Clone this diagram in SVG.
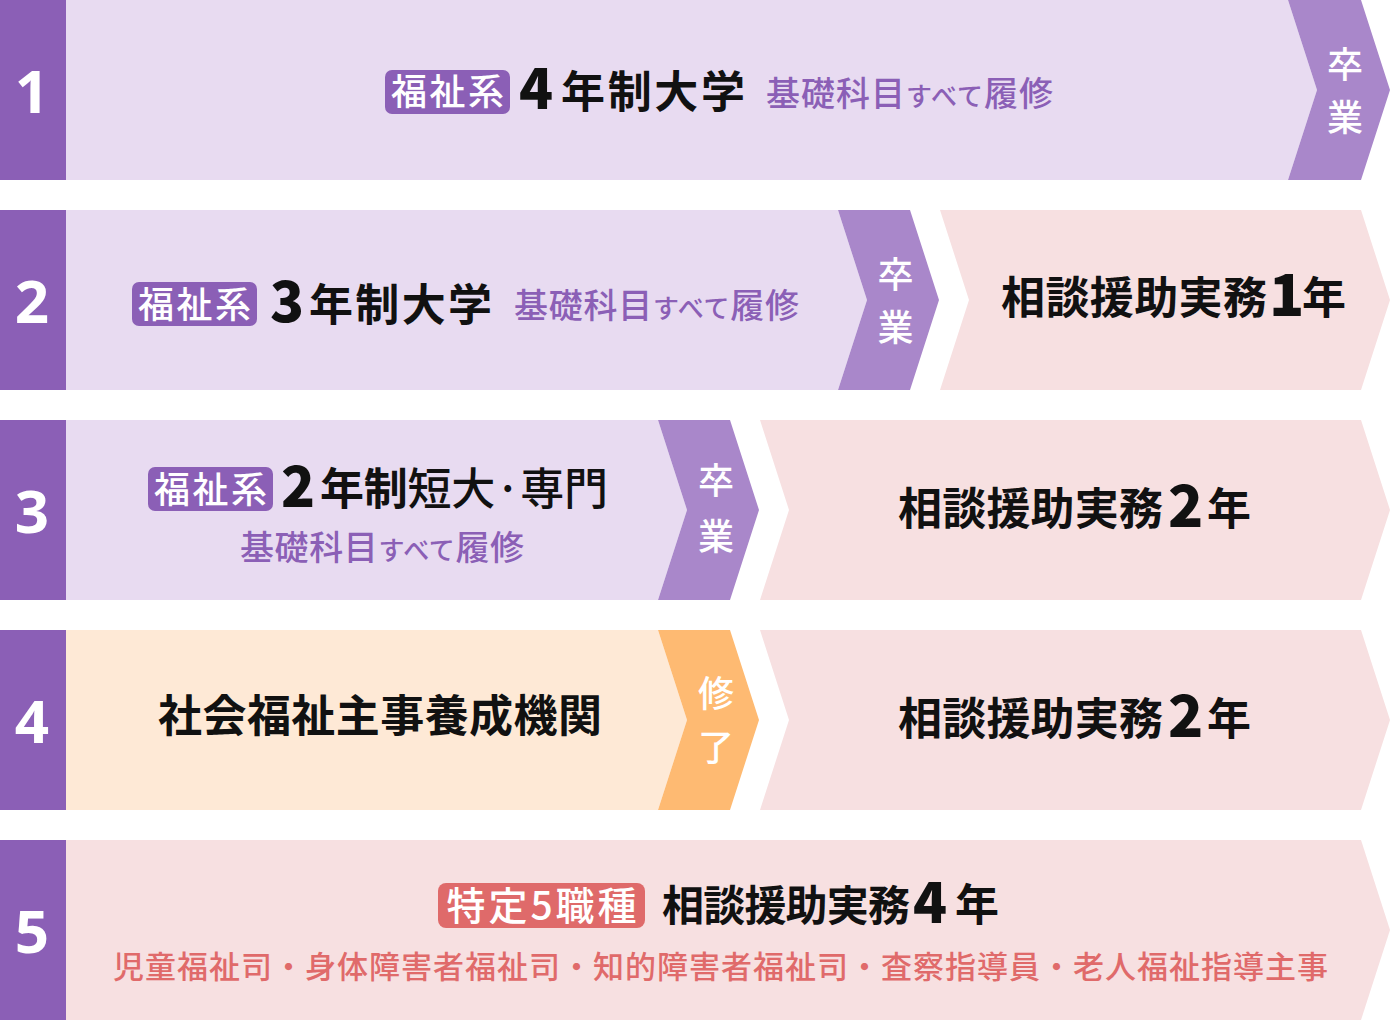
<svg xmlns="http://www.w3.org/2000/svg" width="1390" height="1020" viewBox="0 0 1390 1020">
<style>
text{font-family:"Noto Sans CJK JP","Noto Sans",sans-serif}
.num{fill:#ffffff;font-size:60px;font-weight:700;text-anchor:middle;font-family:"Noto Sans","Noto Sans CJK JP",sans-serif}
.numcol{fill:#8b5fb6}
.lav{fill:#e8dbf1}
.chev{fill:#a987ca}
.pink{fill:#f7e0e1}
.peach{fill:#fee9d6}
.orng{fill:#feba72}
.badge{fill:#8b5fb6}
.rbadge{fill:#df6a6a}
.btxt{fill:#ffffff;font-size:36px;font-weight:500}
.ctxt{fill:#ffffff;font-size:36px;font-weight:500;text-anchor:middle}
.main{fill:#111111;font-size:44px;font-weight:700}
.sub{fill:#8b5fb6;font-size:34px;font-weight:500}
.kana{font-size:26px}
.big{font-size:58px;font-weight:900}
.dig{font-size:56px;font-weight:900}
.red{fill:#e06a6a;font-size:31px;font-weight:500}
</style>

<g id="row1">
  <rect class="numcol" x="0" y="0" width="66" height="180"/>
  <text class="num" x="32" y="113">1</text>
  <polygon class="lav" points="66,0 1288,0 1317,90 1288,180 66,180"/>
  <polygon class="chev" points="1288,0 1361,0 1390,90 1361,180 1288,180 1317,90"/>
  <text class="ctxt" x="1345" y="78">卒</text>
  <text class="ctxt" x="1345" y="131">業</text>
  <rect class="badge" x="385" y="70" width="125" height="44" rx="7"/>
  <text class="btxt" x="447.5" y="105" text-anchor="middle" textLength="113">福祉系</text>
  <text class="main dig" x="519" y="109">4</text>
  <text class="main" x="561" y="108" textLength="184">年制大学</text>
  <text class="sub" x="766" y="106" textLength="287">基礎科目<tspan class="kana">すべて</tspan>履修</text>
</g>

<g id="row2">
  <rect class="numcol" x="0" y="210" width="66" height="180"/>
  <text class="num" x="32" y="323">2</text>
  <polygon class="lav" points="66,210 838,210 867,300 838,390 66,390"/>
  <polygon class="chev" points="838,210 910,210 939,300 910,390 838,390 867,300"/>
  <text class="ctxt" x="895.5" y="288">卒</text>
  <text class="ctxt" x="895.5" y="341">業</text>
  <polygon class="pink" points="940,210 1361,210 1390,300 1361,390 940,390 969,300"/>
  <rect class="badge" x="132" y="282" width="125" height="44" rx="7"/>
  <text class="btxt" x="194.5" y="317.5" text-anchor="middle" textLength="113">福祉系</text>
  <text class="main dig" x="270" y="322">3</text>
  <text class="main" x="309" y="320.5" textLength="183">年制大学</text>
  <text class="sub" x="514" y="318" textLength="285">基礎科目<tspan class="kana">すべて</tspan>履修</text>
  <text class="main" x="1001" y="314" textLength="266">相談援助実務</text>
  <text class="main big" x="1269" y="316">1</text>
  <text class="main" x="1302" y="314">年</text>
</g>

<g id="row3">
  <rect class="numcol" x="0" y="420" width="66" height="180"/>
  <text class="num" x="32" y="533">3</text>
  <polygon class="lav" points="66,420 658,420 687,510 658,600 66,600"/>
  <polygon class="chev" points="658,420 730,420 759,510 730,600 658,600 687,510"/>
  <text class="ctxt" x="716" y="494">卒</text>
  <text class="ctxt" x="716" y="550">業</text>
  <polygon class="pink" points="760,420 1361,420 1390,510 1361,600 760,600 789,510"/>
  <rect class="badge" x="148" y="467" width="125" height="44" rx="7"/>
  <text class="btxt" x="210.5" y="502.5" text-anchor="middle" textLength="113">福祉系</text>
  <text class="main dig" x="281" y="507">2</text>
  <text class="main" x="320" y="505" textLength="288">年制<tspan font-weight="500">短大·専門</tspan></text>
  <text class="sub" x="240" y="560" textLength="284">基礎科目<tspan class="kana">すべて</tspan>履修</text>
  <text class="main" x="898" y="525" textLength="265">相談援助実務</text>
  <text class="main big" x="1168" y="527">2</text>
  <text class="main" x="1207" y="525">年</text>
</g>

<g id="row4">
  <rect class="numcol" x="0" y="630" width="66" height="180"/>
  <text class="num" x="32" y="743">4</text>
  <polygon class="peach" points="66,630 658,630 687,720 658,810 66,810"/>
  <polygon class="orng" points="658,630 730,630 759,720 730,810 658,810 687,720"/>
  <text class="ctxt" x="716" y="707">修</text>
  <text class="ctxt" x="716" y="761">了</text>
  <polygon class="pink" points="760,630 1361,630 1390,720 1361,810 760,810 789,720"/>
  <text class="main" x="158" y="732" textLength="444">社会福祉主事養成機関</text>
  <text class="main" x="898" y="735" textLength="265">相談援助実務</text>
  <text class="main big" x="1168" y="737">2</text>
  <text class="main" x="1207" y="735">年</text>
</g>

<g id="row5">
  <rect class="numcol" x="0" y="840" width="66" height="180"/>
  <text class="num" x="32" y="953">5</text>
  <polygon class="pink" points="66,840 1361,840 1390,930 1361,1020 66,1020"/>
  <rect class="rbadge" x="438" y="883" width="207" height="45" rx="8"/>
  <text class="btxt" x="541.5" y="920" text-anchor="middle" style="font-size:39px" textLength="190">特定5職種</text>
  <text class="main" x="662" y="921" style="font-size:42px" textLength="248">相談援助実務</text>
  <text class="main dig" x="913" y="923">4</text>
  <text class="main" x="955" y="921">年</text>
  <text class="red" x="113" y="978" textLength="1215">児童福祉司・身体障害者福祉司・知的障害者福祉司・査察指導員・老人福祉指導主事</text>
</g>

<g id="connectors"></g>
</svg>
